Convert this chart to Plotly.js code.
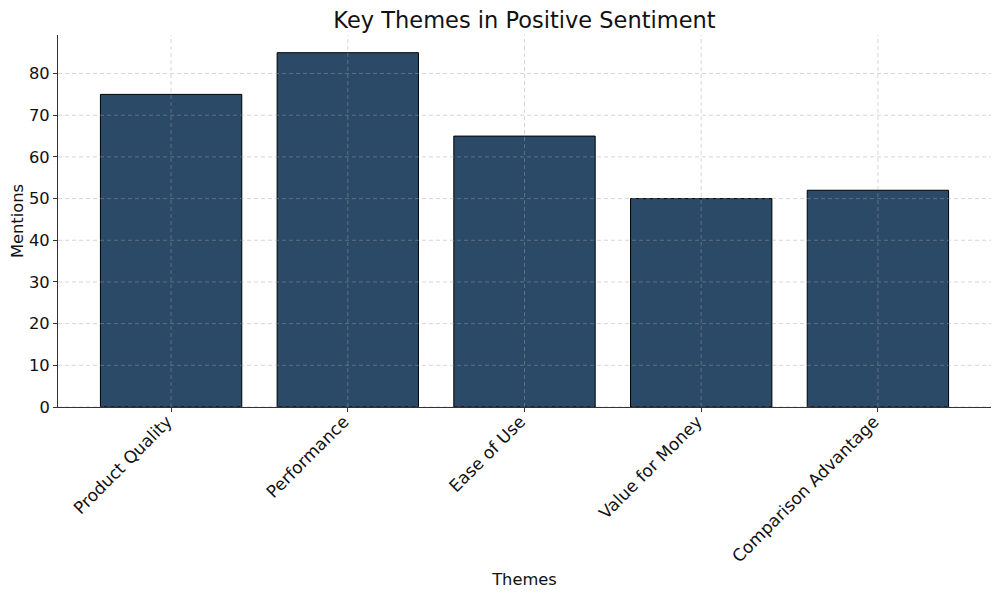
<!DOCTYPE html>
<html><head><meta charset="utf-8">
<script src="https://cdn.plot.ly/plotly-3.0.1.min.js"></script>
<style>body{margin:0}#c{width:1000px;height:596px}</style>
</head><body><div id="c"></div>
<script>
const themes = ["Product Quality", "Performance", "Ease of Use", "Value for Money", "Comparison Advantage"];
const mentions = [75, 85, 65, 50, 52];
const yTicks = [0, 10, 20, 30, 40, 50, 60, 70, 80];

const gridStyle = {color: 'rgba(160,160,160,0.55)', width: 0.8, dash: '4px,3px'};
const shapes = [];
yTicks.forEach(v => shapes.push({type: 'line', layer: 'above', xref: 'paper', yref: 'y', x0: 0, x1: 1, y0: v, y1: v, line: gridStyle}));
themes.forEach((t, i) => shapes.push({type: 'line', layer: 'above', xref: 'x', yref: 'paper', x0: i, x1: i, y0: 0, y1: 1, line: gridStyle}));

const trace = {
  type: 'bar', x: themes.map((t, i) => i), y: mentions, width: 0.8,
  marker: {color: '#2b4a67', line: {color: '#000', width: 1}},
  hoverinfo: 'skip'
};
const F = 'DejaVu Sans';
const layout = {
  width: 1000, height: 596,
  margin: {l: 58, r: 9, t: 35, b: 189},
  paper_bgcolor: '#fff', plot_bgcolor: '#fff',
  font: {family: F, size: 16, color: '#111'},
  title: {text: 'Key Themes in Positive Sentiment', font: {family: F, size: 22.5, color: '#111'}, x: 0.5245, xanchor: 'center', y: 0.966, yanchor: 'middle'},
  xaxis: {
    range: [-0.64, 4.64], tickmode: 'array', tickvals: themes.map((t, i) => i), ticktext: themes,
    tickangle: -45, ticks: 'outside', ticklen: 4, tickcolor: '#333', showgrid: false,
    ticklabelstandoff: -7, ticklabelshift: -4,
    showline: true, linecolor: '#333', linewidth: 1, zeroline: false,
    tickfont: {family: F, size: 17, color: '#111'},
    title: {text: 'Themes', font: {family: F, size: 16.3, color: '#111'}, standoff: 8}
  },
  yaxis: {
    range: [0, 89.25], tickmode: 'array', tickvals: yTicks, ticks: 'outside', ticklen: 4, tickcolor: '#333',
    showgrid: false, showline: true, linecolor: '#333', linewidth: 1, zeroline: false,
    tickfont: {family: F, size: 16.3, color: '#111'},
    title: {text: 'Mentions', font: {family: F, size: 16.3, color: '#111'}, standoff: 1}
  },
  shapes: shapes, showlegend: false, bargap: 0.2
};
Plotly.newPlot('c', [trace], layout, {displayModeBar: false, staticPlot: true});
</script></body></html>
